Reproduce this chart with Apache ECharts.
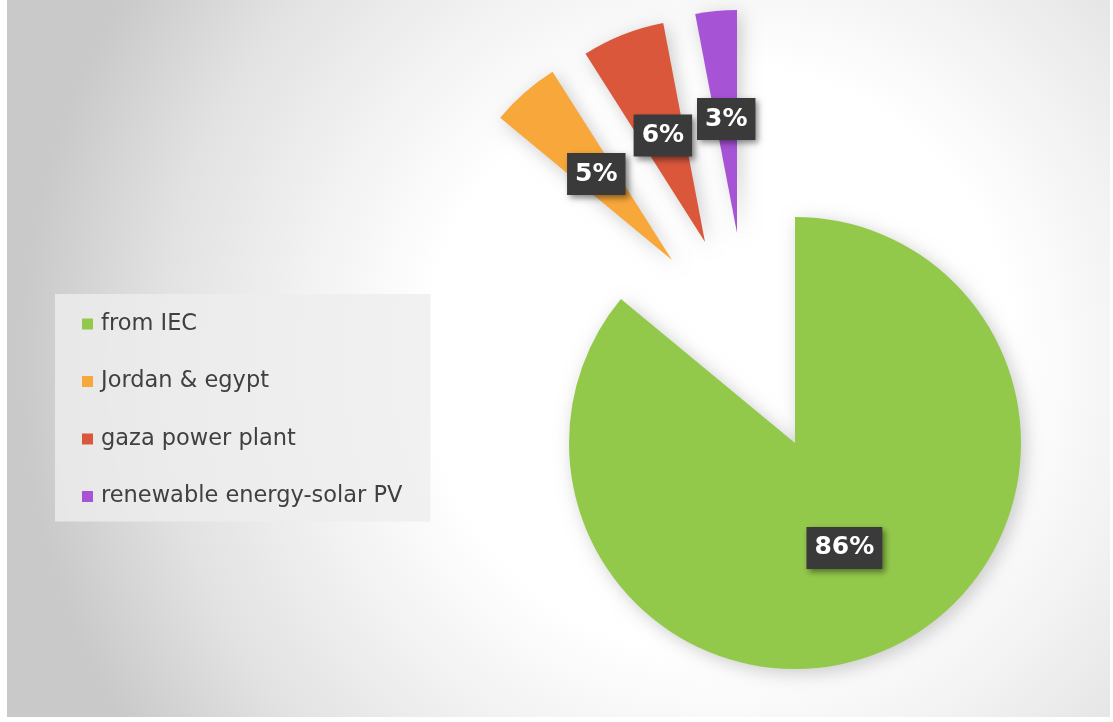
<!DOCTYPE html>
<html>
<head>
<meta charset="utf-8">
<title>Electricity supply sources</title>
<script src="https://cdn.jsdelivr.net/npm/echarts@6/dist/echarts.min.js"></script>
<style>
  html, body { margin: 0; padding: 0; background: #ffffff; }
  #chart { width: 1113px; height: 722px; }
</style>
</head>
<body>
<div id="chart"></div>
<script>
// Supply sources and their share of the total (percent)
const categories = ['from IEC', 'Jordan & egypt', 'gaza power plant', 'renewable energy-solar PV'];
const shares = [86, 5, 6, 3];

// Slice colours, in category order
const sliceColors = ['#93c94b', '#f8a73a', '#db573b', '#a653d6'];

// Each slice is drawn by its own pie series so the small ones can sit pulled out
const sliceCenters = [[795, 443], [672, 260], [705, 242], [737, 233]];
const sliceRadii = [226, 223, 223, 223];

const chart = echarts.init(document.getElementById('chart'), null, { renderer: 'canvas' });

const labelStyle = {
  show: true,
  position: 'inside',
  formatter: '{c}%',
  color: '#ffffff',
  fontFamily: 'DejaVu Sans',
  fontWeight: 'bold',
  fontSize: 25,
  lineHeight: 30,
  backgroundColor: '#3a3a3a',
  padding: [6, 8],
  shadowColor: 'rgba(0,0,0,0.45)',
  shadowBlur: 6,
  shadowOffsetX: 3,
  shadowOffsetY: 3
};

const series = categories.map(function (name, k) {
  return {
    type: 'pie',
    center: sliceCenters[k],
    radius: [0, sliceRadii[k]],
    startAngle: 90,
    clockwise: true,
    avoidLabelOverlap: false,
    silent: true,
    animation: false,
    label: labelStyle,
    labelLine: { show: false },
    emphasis: { disabled: true },
    itemStyle: {
      borderWidth: 0,
      shadowBlur: 18,
      shadowColor: 'rgba(0,0,0,0.2)',
      shadowOffsetX: 4,
      shadowOffsetY: 4
    },
    data: shares.map(function (v, i) {
      if (i === k) {
        return { name: categories[i], value: v, itemStyle: { color: sliceColors[i] } };
      }
      // spacer keeping the slice at its angular place
      return {
        value: v,
        itemStyle: { color: 'rgba(0,0,0,0)', shadowBlur: 0, shadowColor: 'rgba(0,0,0,0)' },
        label: { show: false }
      };
    })
  };
});

chart.setOption({
  animation: false,
  graphic: [{
    type: 'rect',
    z: -10,
    silent: true,
    shape: { x: 7, y: 0, width: 1103, height: 717 },
    style: {
      fill: new echarts.graphic.RadialGradient(720, 360, 700, [
        { offset: 0, color: '#ffffff' },
        { offset: 0.42, color: '#ffffff' },
        { offset: 0.6, color: '#f2f2f2' },
        { offset: 0.8, color: '#e2e2e2' },
        { offset: 1, color: '#c9c9c9' }
      ], true)
    }
  }],
  legend: {
    orient: 'vertical',
    left: 55,
    top: 294,
    data: categories,
    selectedMode: false,
    icon: 'rect',
    itemWidth: 11,
    itemHeight: 11,
    itemGap: 33.5,
    backgroundColor: 'rgba(238,238,238,0.8)',
    padding: [18, 28, 13, 27],
    textStyle: {
      fontFamily: 'DejaVu Sans',
      fontSize: 22.5,
      color: '#404040',
      lineHeight: 24,
      padding: [0, 0, 0, 3]
    }
  },
  series: series
});
</script>
</body>
</html>
